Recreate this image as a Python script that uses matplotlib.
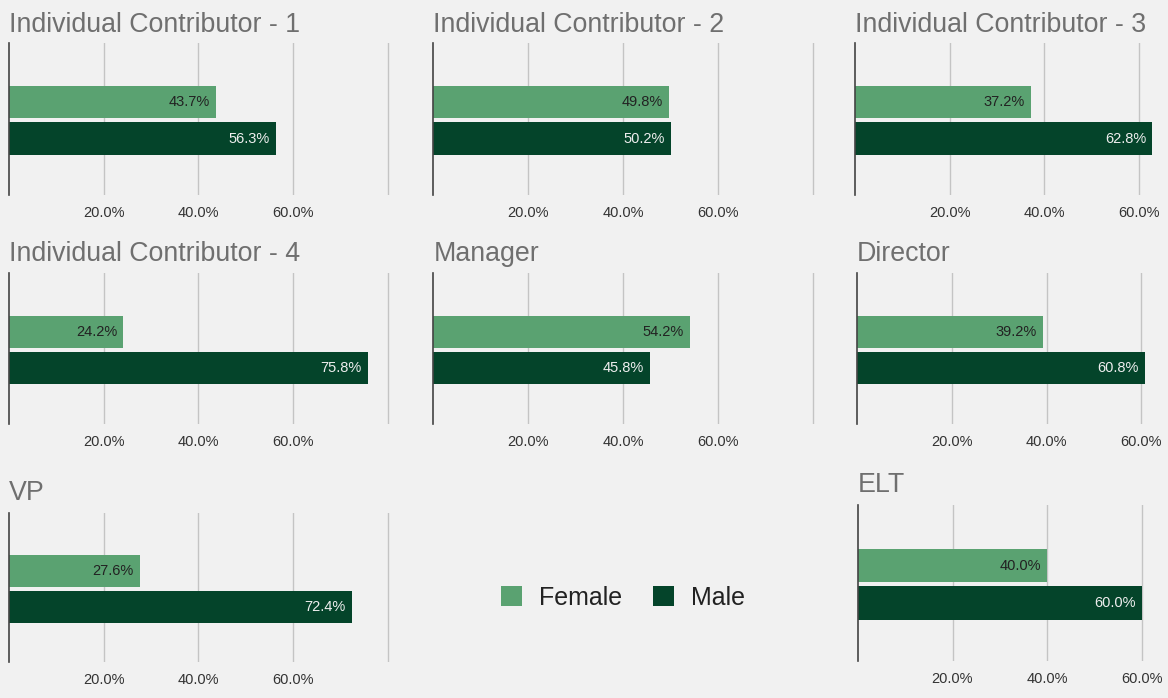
import matplotlib
matplotlib.use("Agg")
import matplotlib.pyplot as plt
from matplotlib.patches import Patch

titles = ["Individual Contributor - 1", "Individual Contributor - 2", "Individual Contributor - 3",
          "Individual Contributor - 4", "Manager", "Director", "VP", "ELT"]
female = [43.7, 49.8, 37.2, 24.2, 54.2, 39.2, 27.6, 40.0]
male = [56.3, 50.2, 62.8, 75.8, 45.8, 60.8, 72.4, 60.0]
series = ["Female", "Male"]
tick_vals = [20, 40, 60]
tick_labels = ["20.0%", "40.0%", "60.0%"]

FEMALE_C = "#5aa271"
MALE_C = "#04442a"
BG = "#f1f1f1"

W, H = 1168, 698
fig = plt.figure(figsize=(W / 100, H / 100), dpi=100, facecolor=BG)
plt.rcParams['font.family'] = ['Liberation Sans', 'DejaVu Sans']

# panel layout in pixels: (left, top, bottom, title_baseline)
layout = [
    (8.7, 43, 195, 32),
    (433.3, 43, 195, 32),
    (854.7, 43, 195, 32),
    (8.7, 273, 424, 261),
    (433.3, 273, 424, 261),
    (857.0, 273, 424, 261),
    (8.7, 513, 662, 500),
    (857.7, 505, 661, 492),
]
PX20 = 94.8  # pixels per 20 percentage points
XMAX = 81

for i, (title, f, m) in enumerate(zip(titles, female, male)):
    left, top, bot, tb = layout[i]
    width = PX20 * XMAX / 20
    ax = fig.add_axes([left / W, 1 - bot / H, width / W, (bot - top) / H])
    ax.set_facecolor(BG)
    ax.barh([0], [f], height=0.89, color=FEMALE_C, zorder=3)
    ax.barh([1], [m], height=0.89, color=MALE_C, zorder=3)
    ax.set_xlim(0, XMAX)
    ax.set_ylim(2.55, -1.62)
    ax.set_yticks([])
    ax.set_xticks(tick_vals)
    ax.set_xticklabels(tick_labels)
    ax.tick_params(axis='x', length=0, pad=8, labelsize=10.5, labelcolor="#333333")
    ax.set_xticks([80], minor=True)
    ax.tick_params(axis='x', which='minor', length=0)
    ax.grid(axis='x', which='both', color="#c4c4c4", linewidth=1, zorder=0)
    for s in ['top', 'right', 'bottom']:
        ax.spines[s].set_visible(False)
    ax.spines['left'].set_color("#444444")
    ax.spines['left'].set_linewidth(1.2)
    ax.spines['left'].set_zorder(4)
    ax.text(f - 1.3, 0, f"{f:.1f}%", ha='right', va='center', fontsize=10.5, color="#222222", zorder=5)
    ax.text(m - 1.3, 1, f"{m:.1f}%", ha='right', va='center', fontsize=10.5, color="#eeeeee", zorder=5)
    fig.text(left / W, 1 - tb / H, title, ha='left', va='baseline', fontsize=19.3, color="#6f6f6f")

handles = [Patch(facecolor=FEMALE_C, edgecolor='none'), Patch(facecolor=MALE_C, edgecolor='none')]
fig.legend(handles, series, loc='center', bbox_to_anchor=(623 / W, 1 - 598 / H), ncol=2, frameon=False,
           fontsize=18, handlelength=0.85, handleheight=0.85, handletextpad=0.7, columnspacing=1.2,
           labelcolor="#222222")

fig.savefig("out.png", dpi=100, facecolor=BG)
